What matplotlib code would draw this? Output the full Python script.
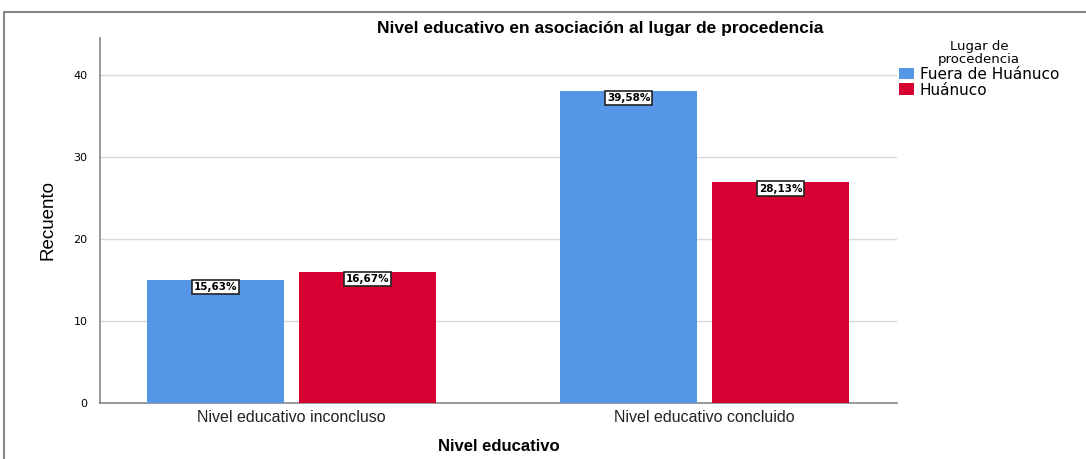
import matplotlib
matplotlib.use("Agg")
import matplotlib.pyplot as plt
import numpy as np
from matplotlib.lines import Line2D
from matplotlib.patches import Patch

categories = ["Nivel educativo inconcluso", "Nivel educativo concluido"]
series_names = ["Fuera de Huánuco", "Huánuco"]
fuera = [15, 38]
huanuco = [16, 27]
fuera_pct = ["15,63%", "39,58%"]
huanuco_pct = ["16,67%", "28,13%"]
colors = ["#5596e6", "#d70033"]

plt.rcParams['font.family'] = ['Liberation Sans', 'DejaVu Sans']

fig = plt.figure(figsize=(10.86, 4.59), dpi=100)
W, H = 1086, 459
ax = fig.add_axes([100 / W, 1 - 403 / H, (897 - 100) / W, (403 - 38) / H])

x = np.arange(len(categories))
w = 0.332
off = 0.184
series = [(fuera, fuera_pct), (huanuco, huanuco_pct)]
for i, (vals, pcts) in enumerate(series):
    xs = x + (-off if i == 0 else off)
    ax.bar(xs, vals, width=w, color=colors[i], zorder=3)
    for xi, v, p in zip(xs, vals, pcts):
        ax.text(xi, v - 0.85, p, ha='center', va='center', fontsize=7.5, fontweight='bold',
                family='DejaVu Sans', zorder=5,
                bbox=dict(boxstyle='square,pad=0.2', fc='white', ec='#222222', lw=1.2))

ax.set_xlim(-0.464, 1.466)
ax.set_ylim(0, 44.5)
ax.set_yticks([0, 10, 20, 30, 40])
ax.yaxis.grid(True, color='#d9d9d9', lw=1, zorder=0)
ax.set_axisbelow(True)
for s in ['top', 'right']:
    ax.spines[s].set_visible(False)
for s in ['left', 'bottom']:
    ax.spines[s].set_color('#888888')
    ax.spines[s].set_linewidth(1.2)
ax.tick_params(axis='both', length=0)
ax.tick_params(axis='y', labelsize=8, pad=9)
for lab in ax.get_yticklabels():
    lab.set_family('DejaVu Sans')
ax.tick_params(axis='x', labelsize=11.5, pad=5, labelcolor='#222222')
ax.set_xticks(x)
ax.set_xticklabels(categories)
ax.set_xlabel("Nivel educativo", fontsize=12, fontweight='bold', labelpad=10)
ax.set_ylabel("Recuento", fontsize=13.5, labelpad=12, fontstretch='condensed')
fig.text(600 / W, 1 - 28 / H, "Nivel educativo en asociación al lugar de procedencia",
         ha='center', va='center', fontsize=12.5, fontweight='bold')

handles = [Patch(facecolor=c, edgecolor='none') for c in colors]
leg = fig.legend(handles, series_names, title="Lugar de\nprocedencia",
                 loc='upper left', bbox_to_anchor=(899 / W, 1 - 40 / H),
                 frameon=False, prop={'family': 'DejaVu Sans', 'size': 11},
                 title_fontproperties={'family': 'DejaVu Sans', 'size': 9.5},
                 handlelength=1.0, handleheight=0.8, handletextpad=0.35,
                 labelspacing=0.05, borderaxespad=0, borderpad=0, alignment='center')
leg.get_title().set_linespacing(1.0)
leg.get_title().set_ha('center')

fig.add_artist(Line2D([4 / W, 1], [1 - 12 / H, 1 - 12 / H], color='#888888', lw=1.5,
                      transform=fig.transFigure))
fig.add_artist(Line2D([4 / W, 4 / W], [0, 1 - 12 / H], color='#888888', lw=1.5,
                      transform=fig.transFigure))

fig.savefig("out.png", dpi=100)
